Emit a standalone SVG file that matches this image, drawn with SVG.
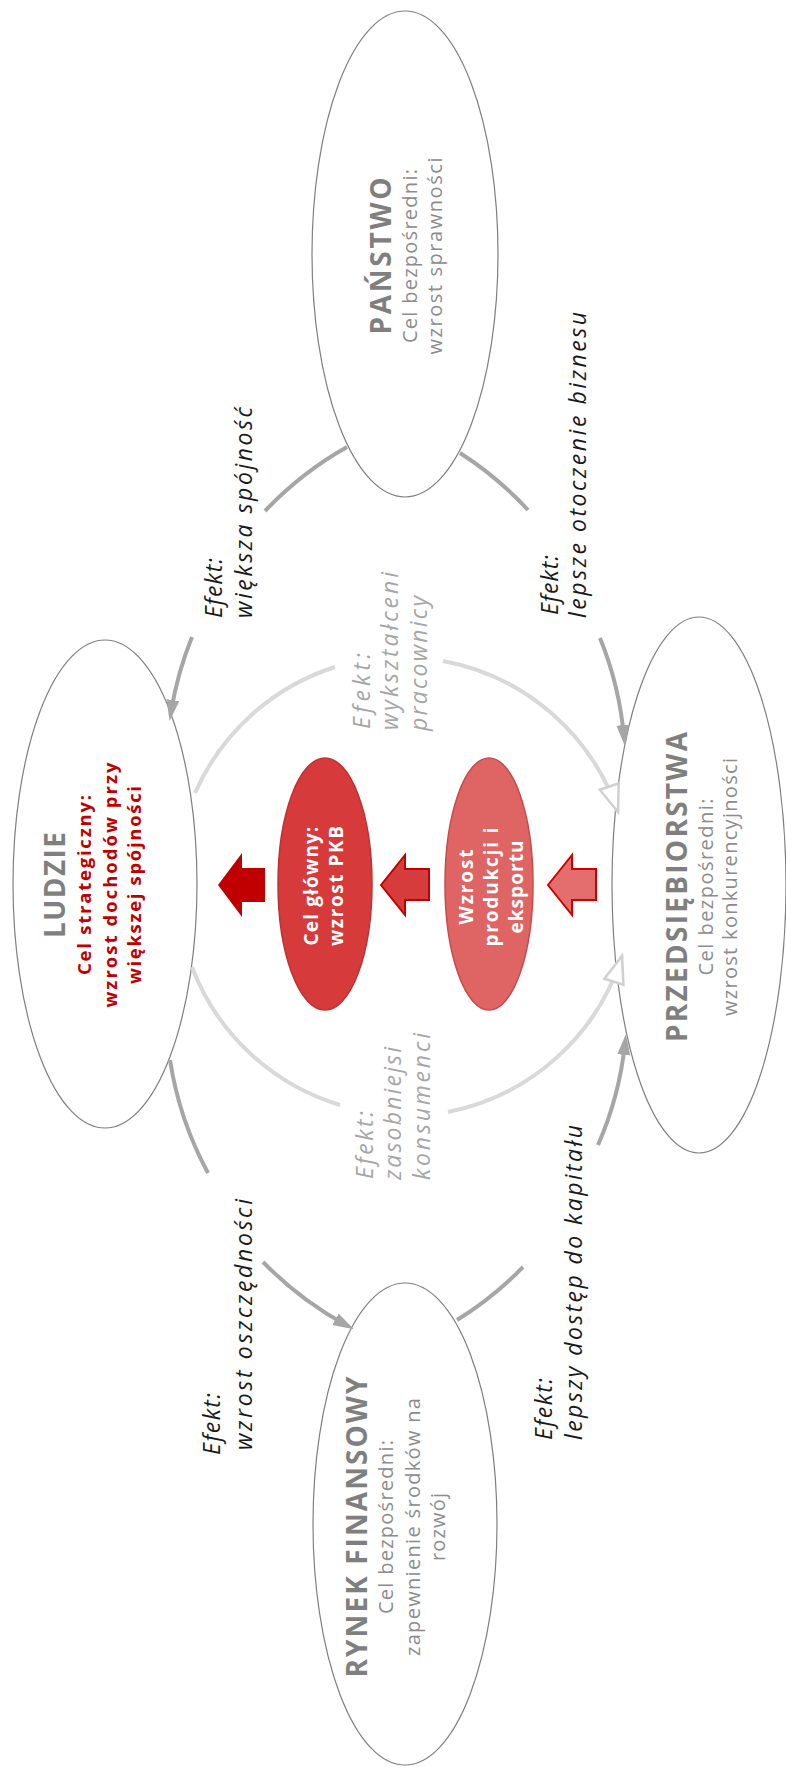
<svg xmlns="http://www.w3.org/2000/svg" width="786" height="1767" viewBox="0 0 786 1767">
<style>
.node{fill:#fff;stroke:#7f7f7f;stroke-width:1.2}
.title{font-family:"Open Sans","DejaVu Sans",sans-serif;font-weight:bold;font-size:28px;fill:#7f7f7f;text-anchor:middle}
.sub{font-family:"Open Sans","DejaVu Sans",sans-serif;font-size:20px;fill:#8c8c8c;text-anchor:middle}
.red{font-family:"Open Sans","DejaVu Sans",sans-serif;font-weight:bold;font-size:18.5px;fill:#c00000;text-anchor:middle}
.wt{font-family:"Open Sans","DejaVu Sans",sans-serif;font-weight:bold;font-size:19px;fill:#fff;text-anchor:middle}
.ef{font-family:"Open Sans","DejaVu Sans",sans-serif;font-style:italic;font-size:23px;fill:#1a1a1a}
.efi{font-family:"Open Sans","DejaVu Sans",sans-serif;font-style:italic;font-size:23px;fill:#a6a6a6}
.outer{fill:none;stroke:#a6a6a6;stroke-width:4}
.inner{fill:none;stroke:#d9d9d9;stroke-width:4}
</style>
<defs>
<marker id="ah" markerUnits="userSpaceOnUse" markerWidth="22" markerHeight="14" refX="12" refY="6.5" orient="auto"><path d="M0,0 L21,6.5 L0,13 z" fill="#a6a6a6"/></marker>
<marker id="ho" markerUnits="userSpaceOnUse" markerWidth="34" markerHeight="26" refX="29" refY="12" orient="auto"><path d="M2,2 L29,12 L2,22 z" fill="#fff" stroke="#d0d0d0" stroke-width="2.5" stroke-linejoin="miter"/></marker>
</defs>

<g id="panstwo">
<ellipse class="node" cx="405" cy="254" rx="93" ry="243"/>
<g transform="translate(391,256) rotate(-90)">
<text class="title" x="0" y="0" textLength="157">PAŃSTWO</text>
<text class="sub" x="0" y="26" textLength="174">Cel bezpośredni:</text>
<text class="sub" x="0" y="51" textLength="197">wzrost sprawności</text>
</g>
</g>

<g id="ludzie">
<ellipse class="node" cx="105" cy="884" rx="92" ry="244"/>
<g transform="translate(65,885) rotate(-90)">
<text class="title" x="0" y="0" textLength="106">LUDZIE</text>
<text class="red" x="0" y="26" textLength="180">Cel strategiczny:</text>
<text class="red" x="0" y="52" textLength="245">wzrost dochodów przy</text>
<text class="red" x="0" y="76" textLength="198">większej spójności</text>
</g>
</g>

<g id="przedsiebiorstwa">
<ellipse class="node" cx="699" cy="885" rx="87" ry="268"/>
<g transform="translate(687,887) rotate(-90)">
<text class="title" x="0" y="0" textLength="310">PRZEDSIĘBIORSTWA</text>
<text class="sub" x="0" y="26" textLength="177">Cel bezpośredni:</text>
<text class="sub" x="0" y="50" textLength="258">wzrost konkurencyjności</text>
</g>
</g>

<g id="rynek">
<ellipse class="node" cx="405" cy="1524" rx="92" ry="241"/>
<g transform="translate(367,1527) rotate(-90)">
<text class="title" x="0" y="0" textLength="301">RYNEK FINANSOWY</text>
<text class="sub" x="0" y="26" textLength="174">Cel bezpośredni:</text>
<text class="sub" x="0" y="53" textLength="258">zapewnienie środków na</text>
<text class="sub" x="0" y="78" textLength="68">rozwój</text>
</g>
</g>

<g id="cel-glowny">
<ellipse cx="325" cy="884" rx="47" ry="126" fill="#d63a3a" stroke="#bf3030" stroke-width="1.5"/>
<g transform="translate(318,886) rotate(-90)">
<text class="wt" x="0" y="0" textLength="119">Cel główny:</text>
<text class="wt" x="0" y="25" textLength="120">wzrost PKB</text>
</g>
</g>

<g id="wzrost-produkcji">
<ellipse cx="489" cy="884" rx="44" ry="126" fill="#df6464" stroke="#c94a4a" stroke-width="1.5"/>
<g transform="translate(473,887) rotate(-90)">
<text class="wt" x="0" y="0" textLength="75">Wzrost</text>
<text class="wt" x="0" y="25" textLength="119">produkcji i</text>
<text class="wt" x="0" y="50" textLength="93">eksportu</text>
</g>
</g>

<g id="connectors">
<path class="outer" d="M347,447 A350,350 0 0 0 265,511"/>
<path class="outer" d="M192,637 A350,350 0 0 0 171,712" marker-end="url(#ah)"/>
<path class="outer" d="M460,453 A345,345 0 0 1 528,510"/>
<path class="outer" d="M600,638 A345,345 0 0 1 624,737" marker-end="url(#ah)"/>
<path class="outer" d="M170,1060 A350,350 0 0 0 208,1173"/>
<path class="outer" d="M263,1262 A350,350 0 0 0 346,1325" marker-end="url(#ah)"/>
<path class="outer" d="M457,1320 A340,340 0 0 0 523,1267"/>
<path class="outer" d="M598,1145 A340,340 0 0 0 625,1043" marker-end="url(#ah)"/>
<path class="inner" d="M195,793 A229,229 0 0 1 335,667"/>
<path class="inner" d="M443,661 A229,229 0 0 1 618,812" marker-end="url(#ho)"/>
<path class="inner" d="M192,967 A229,229 0 0 0 340,1105"/>
<path class="inner" d="M448,1112 A229,229 0 0 0 622,956" marker-end="url(#ho)"/>
<polygon points="218,885 242,853 242,868 265,868 265,902 242,902 242,917" fill="#c00000"/>
<polygon points="381,885 405,855 405,869 429,869 429,900 405,900 405,915" fill="#d63c3c" stroke="#c00000" stroke-width="2"/>
<polygon points="548,885 572,855 572,869 596,869 596,900 572,900 572,915" fill="#e46e6e" stroke="#d00000" stroke-width="2"/>
</g>

<g id="labels">
<g transform="translate(222,618) rotate(-90)">
<text class="ef" x="0" y="0" textLength="60">Efekt:</text>
<text class="ef" x="0" y="30" textLength="211">większa spójność</text>
</g>
<g transform="translate(558,615) rotate(-90)">
<text class="ef" x="0" y="0" textLength="60">Efekt:</text>
<text class="ef" x="-3" y="28" textLength="306">lepsze otoczenie biznesu</text>
</g>
<g transform="translate(220,1455) rotate(-90)">
<text class="ef" x="0" y="0" textLength="62">Efekt:</text>
<text class="ef" x="5" y="32" textLength="251">wzrost oszczędności</text>
</g>
<g transform="translate(552,1440) rotate(-90)">
<text class="ef" x="0" y="0" textLength="62">Efekt:</text>
<text class="ef" x="0" y="30" textLength="315">lepszy dostęp do kapitału</text>
</g>
<g transform="translate(370,729) rotate(-90)">
<text class="efi" x="0" y="0" textLength="76">Efekt:</text>
<text class="efi" x="-1" y="28" textLength="158">wykształceni</text>
<text class="efi" x="-2" y="57" textLength="135">pracownicy</text>
</g>
<g transform="translate(373,1179) rotate(-90)">
<text class="efi" x="0" y="0" textLength="68">Efekt:</text>
<text class="efi" x="-1" y="28" textLength="133">zasobniejsi</text>
<text class="efi" x="-1" y="57" textLength="147">konsumenci</text>
</g>
</g>
</svg>
